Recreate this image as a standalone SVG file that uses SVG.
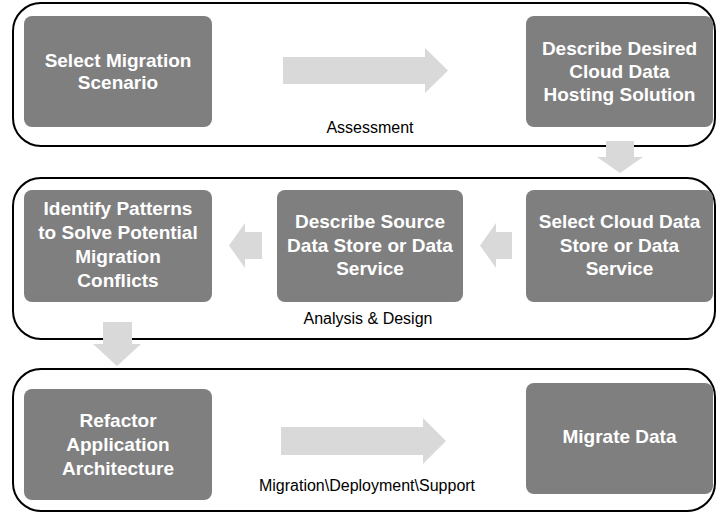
<svg xmlns="http://www.w3.org/2000/svg" width="716" height="513" viewBox="0 0 716 513">
  <style>
    .phase { fill: #ffffff; stroke: #000000; stroke-width: 2; }
    .step rect { fill: #7f7f7f; }
    .step text { fill: #ffffff; font-family: "Liberation Sans", Arial, sans-serif; font-weight: bold; font-size: 19px; text-anchor: middle; }
    .label { fill: #000000; font-family: "Liberation Sans", Arial, sans-serif; font-size: 16px; text-anchor: middle; }
    .flow { fill: #d9d9d9; }
  </style>
  <rect width="716" height="513" fill="#ffffff"/>

  <!-- phase containers -->
  <g id="phase-assessment">
    <rect class="phase" x="13" y="3" width="702" height="143" rx="28" ry="28"/>
    <text class="label" x="370" y="133">Assessment</text>
  </g>
  <g id="phase-analysis">
    <rect class="phase" x="13" y="178" width="702" height="161" rx="28" ry="28"/>
    <text class="label" x="368" y="324">Analysis &amp; Design</text>
  </g>
  <g id="phase-migration">
    <rect class="phase" x="13" y="369" width="702" height="142" rx="28" ry="28"/>
    <text class="label" x="367" y="491">Migration\Deployment\Support</text>
  </g>

  <!-- steps -->
  <g id="select-scenario" class="step">
    <rect x="24" y="16" width="188" height="111" rx="8" ry="8"/>
    <text x="118" y="67">Select Migration</text>
    <text x="118" y="89">Scenario</text>
  </g>
  <g id="describe-desired" class="step">
    <rect x="526" y="16" width="187" height="111" rx="8" ry="8"/>
    <text x="619.5" y="55">Describe Desired</text>
    <text x="619.5" y="78">Cloud Data</text>
    <text x="619.5" y="101">Hosting Solution</text>
  </g>
  <g id="identify-patterns" class="step">
    <rect x="24" y="190" width="188" height="112" rx="8" ry="8"/>
    <text x="118" y="215">Identify Patterns</text>
    <text x="118" y="239">to Solve Potential</text>
    <text x="118" y="263">Migration</text>
    <text x="118" y="287">Conflicts</text>
  </g>
  <g id="describe-source" class="step">
    <rect x="277" y="190" width="186" height="112" rx="8" ry="8"/>
    <text x="370" y="228">Describe Source</text>
    <text x="370" y="252">Data Store or Data</text>
    <text x="370" y="275">Service</text>
  </g>
  <g id="select-cloud" class="step">
    <rect x="526" y="190" width="187" height="112" rx="8" ry="8"/>
    <text x="619.5" y="228">Select Cloud Data</text>
    <text x="619.5" y="252">Store or Data</text>
    <text x="619.5" y="275">Service</text>
  </g>
  <g id="refactor-app" class="step">
    <rect x="24" y="389" width="188" height="111" rx="8" ry="8"/>
    <text x="118" y="427">Refactor</text>
    <text x="118" y="451">Application</text>
    <text x="118" y="475">Architecture</text>
  </g>
  <g id="migrate-data" class="step">
    <rect x="526" y="383" width="187" height="111" rx="8" ry="8"/>
    <text x="619.5" y="443">Migrate Data</text>
  </g>

  <!-- block arrows -->
  <g id="connectors">
    <polygon class="flow" points="283,57 425,57 425,48 448,70.5 425,93 425,84 283,84"/>
    <polygon class="flow" points="606,141 634,141 634,157 643,157 620,173 597,157 606,157"/>
    <polygon class="flow" points="512,232 512,259 496,259 496,268 480,245.5 496,223 496,232"/>
    <polygon class="flow" points="262,232 262,259 245,259 245,268 229,245.5 245,223 245,232"/>
    <polygon class="flow" points="103,322 132,322 132,344 141,344 117,366 93,344 103,344"/>
    <polygon class="flow" points="281,427 423,427 423,418 446,441 423,464 423,455 281,455"/>
  </g>
</svg>
